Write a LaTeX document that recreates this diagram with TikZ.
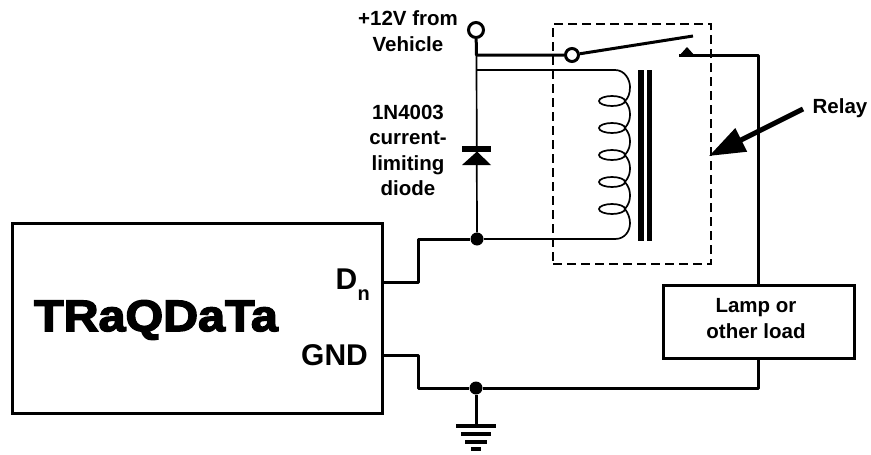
\documentclass[tikz,border=0pt]{standalone}
\usepackage{fontspec}
\setmainfont{Liberation Sans}
\newfontfamily\logofont[UprightFont={* Bold},FakeBold=3.5,FakeStretch=1.1]{Liberation Sans}
\usetikzlibrary{arrows.meta}
\begin{document}
\begin{tikzpicture}[x=1pt,y=-1pt,
    box/.style ={draw, line width=3pt, inner sep=0pt},
    wire/.style ={line width=3pt, line join=round},
    thinwire/.style ={line width=1.7pt},
    terminal/.style ={circle, draw, line width=3pt, fill=white, inner sep=0pt, minimum size=13pt},
    junction/.style ={circle, fill=black, inner sep=0pt, minimum size=13pt},
    small/.style ={font=\fontsize{20.5}{25.5}\selectfont\bfseries, align=center, inner sep=0pt},
    big/.style ={font=\fontsize{30}{32}\selectfont\bfseries, inner sep=0pt}]
   \useasboundingbox (0,0) rectangle (871,455);
   % boxes
   \node[box, minimum width=370pt, minimum height=190pt] (T) at (197,318) {};
   \node[box, minimum width=191pt, minimum height=73pt] (L) at (758.5,321.5) {};
   \node[draw, dashed, line width=1.5pt, dash pattern=on 9pt off 5pt, minimum width=158pt, minimum height=240pt, inner sep=0pt] (R) at (632,144) {};
   % points on the wires
   \coordinate (Dout) at (T.east |- 0,282);
   \coordinate (Gout) at (T.east |- 0,355);
   \coordinate (Dc) at (418,282);
   \coordinate (Gc) at (418,355);
   \coordinate (Feed) at (476.5,55);
   \coordinate (Tap) at (477,70);
   \coordinate (Top) at (758,55);
   \coordinate (CoilA) at (615,70);
   \coordinate (CoilB) at (615,239);
   \coordinate (Fix) at (679,55);
   \coordinate (Moving) at (693,36);
   \coordinate (Gnd) at (476,426);
   \node[terminal, minimum size=15pt] (V) at (476,30) {};
   \node[terminal] (S) at (572,55) {};
   \node[junction] (J) at (477,239) {};
   \node[junction] (K) at (476,388) {};
   % wires
   \draw[wire] (Dout) -- (Dc) |- (J);
   \draw[wire] (Gout) -- (Gc) |- (K);
   \draw[wire] (K) -| (Top |- L.south);
   \draw[wire] (K) -- (Gnd);
   \draw[wire] (V) -- (Feed) -- (S);
   \draw[wire] (S) -- (Moving);
   \draw[wire] (Fix) -- (Top) -- (Top |- L.north);
   \draw[thinwire] (Feed) -- (J);
   \draw[thinwire] (Tap) -- (CoilA);
   \draw[thinwire] (J) -- (CoilB);
   % contact
   \fill (679,56) -- (687,47) -- (695,56) -- cycle;
   % diode
   \fill (462,146) rectangle (491,151.5);
   \fill (477,151.5) -- (462,165) -- (491,165) -- cycle;
   % coil
   \foreach \y in {101,128,155,182,209}
      \draw[thinwire] (612,\y) ellipse (13 and 5);
   \draw[thinwire] (CoilA) .. controls (625,70) and (630,80) .. (630,87) .. controls (630,94) and (628,98) .. (625,101);
   \foreach \y in {101,128,155,182}
      \draw[thinwire] (625,\y) .. controls (629,\y+5) and (630,\y+9) .. (630,\y+13.5) .. controls (630,\y+18) and (629,\y+22) .. (625,\y+27);
   \draw[thinwire] (625,209) .. controls (628,213) and (630,218) .. (630,223) .. controls (630,231) and (625,239) .. (CoilB);
   % core
   \fill (638,70) rectangle (644,241);
   \fill (647,70) rectangle (652,241);
   % ground
   \foreach \w/\y in {20/426,15/434,11/442,5/449}
      \draw[line width=3.5pt] (476-\w,\y) -- (476+\w,\y);
   % labels
   \node[small] (Vlab) at (408,31) {+12V from\\Vehicle};
   \node[small] (Dlab) at (408,150.5) {1N4003\\current-\\limiting\\diode};
   \node[small] (Llab) at (756,318.5) {Lamp or\\other load};
   \node[small] (Rlab) at (840,108) {Relay};
   \node[big, anchor=west] (Dn) at (335.5,279) {D};
   \node[font=\fontsize{20}{20}\selectfont\bfseries, inner sep=0pt, anchor=base west] (n) at (357.5,300) {n};
   \node[big] (G) at (334.5,355.5) {GND};
   \node[font=\fontsize{44}{44}\logofont, inner sep=0pt] (Logo) at (156,320) {TRaQDaTa};
   \coordinate (Rtail) at (803,109);
   \coordinate (Rtip) at (709,156);
   \draw[line width=5pt, -{Triangle[length=36pt,width=25pt]}] (Rtail) to (Rtip);
\end{tikzpicture}
\end{document}
